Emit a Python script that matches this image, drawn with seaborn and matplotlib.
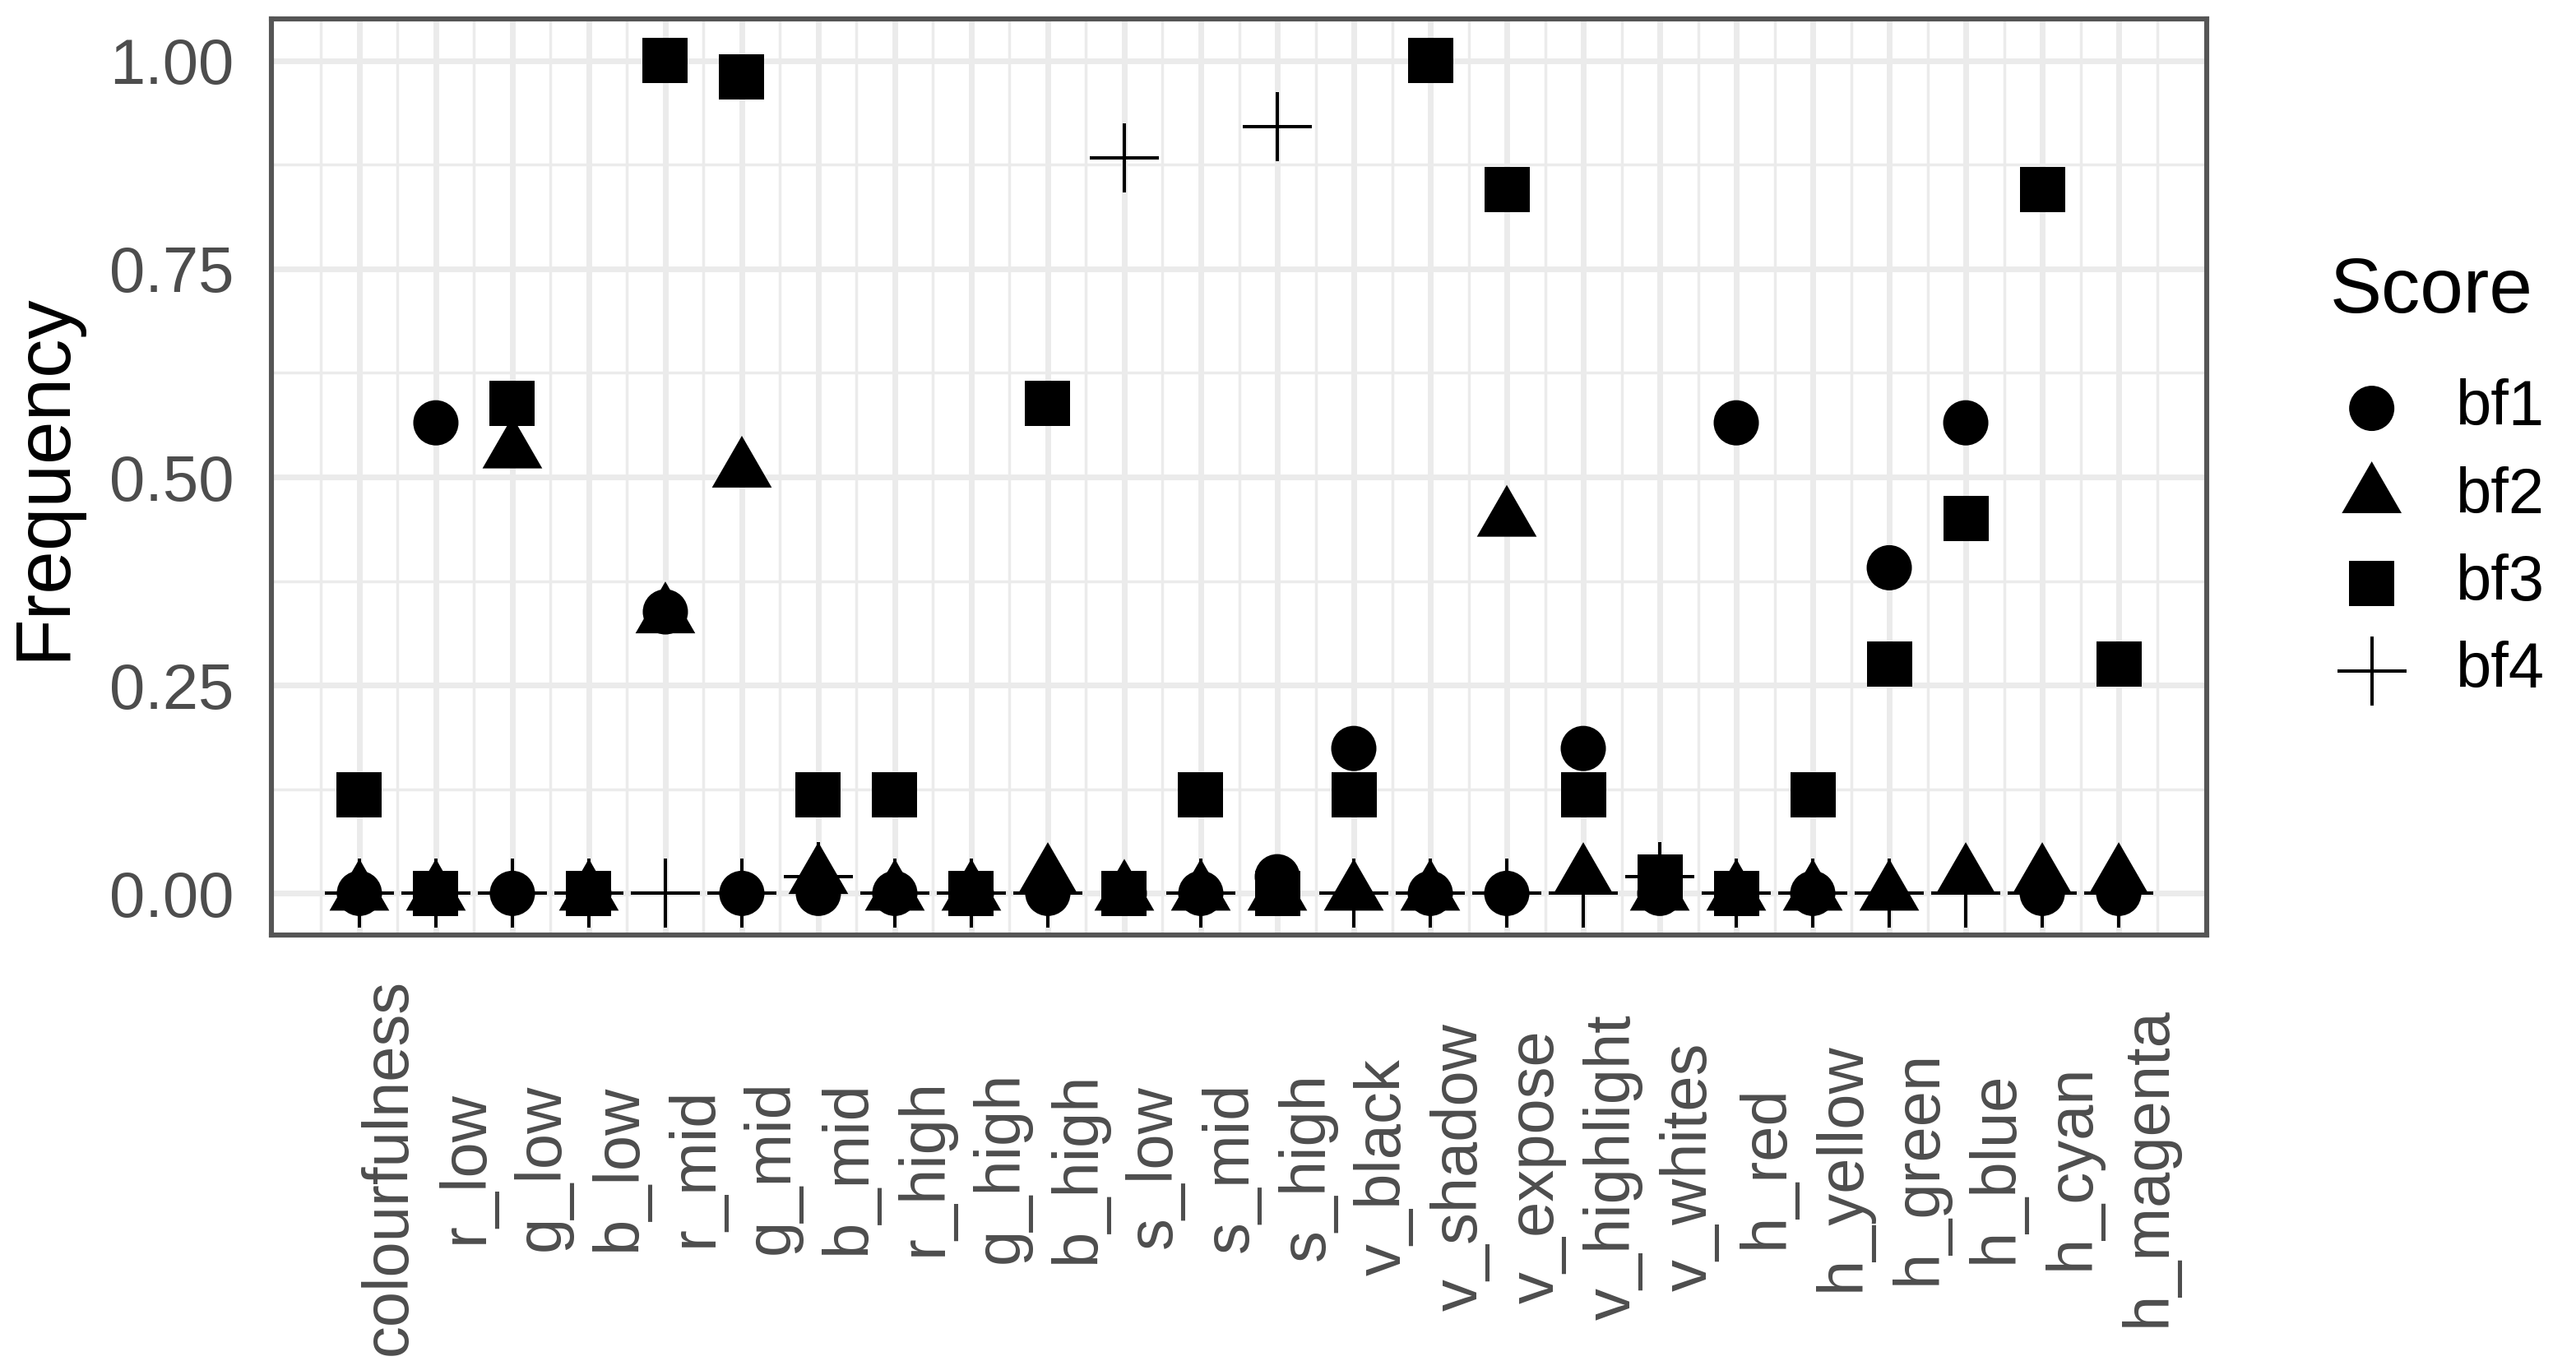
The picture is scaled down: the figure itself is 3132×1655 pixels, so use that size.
import matplotlib
matplotlib.use("Agg")

import matplotlib.pyplot as plt
import seaborn as sns
import pandas as pd
from matplotlib.path import Path


CATEGORIAS = [
    "colourfulness", "r_low", "g_low", "b_low", "r_mid", "g_mid",
    "b_mid", "r_high", "g_high", "b_high", "s_low", "s_mid", "s_high",
    "v_black", "v_shadow", "v_expose", "v_highlight", "v_whites",
    "h_red", "h_yellow", "h_green", "h_blue", "h_cyan", "h_magenta",
]

BF1 = [0.0, 0.565, 0.0, 0.0, 0.338, 0.0, 0.0, 0.0, 0.0, 0.0, 0.0, 0.0,
       0.02, 0.174, 0.0, 0.0, 0.174, 0.0, 0.565, 0.0, 0.391, 0.565, 0.0, 0.0]
BF2 = [0.0, 0.0, 0.531, 0.0, 0.333, 0.508, 0.02, 0.0, 0.0, 0.02, 0.0, 0.0,
       0.0, 0.0, 0.0, 0.449, 0.02, 0.0, 0.0, 0.0, 0.0, 0.02, 0.02, 0.02]
BF3 = [0.118, 0.0, 0.588, 0.0, 1.0, 0.98, 0.118, 0.118, 0.0, 0.588, 0.0, 0.118,
       0.0, 0.118, 1.0, 0.845, 0.118, 0.02, 0.0, 0.118, 0.275, 0.45, 0.845, 0.275]
BF4 = [0.0, 0.0, 0.0, 0.0, 0.0, 0.0, 0.02, 0.0, 0.0, 0.0, 0.883, 0.0,
       0.921, 0.0, 0.0, 0.0, 0.0, 0.02, 0.0, 0.0, 0.0, 0.0, 0.0, 0.0]

SCORES = ["bf1", "bf2", "bf3", "bf4"]
Y_TICKS = [0.0, 0.25, 0.5, 0.75, 1.0]

W, H, DPI = 3132, 1655, 200

# triangulo no estilo do R (centro no baricentro)
TRIANGULO = Path([(0, 1), (-0.866, -0.5), (0.866, -0.5), (0, 1)],
                 [Path.MOVETO, Path.LINETO, Path.LINETO, Path.CLOSEPOLY])

ESTILO = {
    "bf1": dict(marker="o", s=392, edgecolor="none"),
    "bf2": dict(marker=TRIANGULO, s=914, edgecolor="none"),
    "bf3": dict(marker="s", s=392, edgecolor="none"),
    "bf4": dict(marker="+", s=914, linewidth=1.45),
}


df = pd.DataFrame({
    "variavel": CATEGORIAS * 4,
    "pos": list(range(len(CATEGORIAS))) * 4,
    "Score": [s for s in SCORES for _ in CATEGORIAS],
    "Frequency": BF1 + BF2 + BF3 + BF4,
})

sns.set_style("white")
plt.rcParams["font.family"] = ["Liberation Sans", "DejaVu Sans"]

fig = plt.figure(figsize=(W / DPI, H / DPI), dpi=DPI)
ax = fig.add_axes([330 / W, 1 - 1137 / H, (2683 - 330) / W, (1137 - 23) / H])

for score in SCORES:
    sub = df[df["Score"] == score]
    sns.scatterplot(
        data=sub,
        x="pos",
        y="Frequency",
        color="black",
        label=score,
        ax=ax,
        zorder=3,
        **ESTILO[score]
    )

n = len(CATEGORIAS)
ax.set_xlim(-0.05 * (n - 1), (n - 1) * 1.05)
ax.set_ylim(-0.05, 1.05)

ax.set_xticks(range(n))
ax.set_xticks([i + 0.5 for i in range(-1, n)], minor=True)
ax.set_yticks(Y_TICKS)
ax.set_yticks([0.125, 0.375, 0.625, 0.875], minor=True)
ax.set_yticklabels([f"{v:.2f}" for v in Y_TICKS])
ax.set_xticklabels(CATEGORIAS, rotation=90, ha="left", va="center")

ax.grid(which="major", color="#EBEBEB", linewidth=2.5, zorder=0)
ax.grid(which="minor", color="#EBEBEB", linewidth=1.25, zorder=0)
ax.set_axisbelow(True)

ax.tick_params(axis="both", which="major", direction="out", length=9.5,
               width=2.0, color="#333333", labelsize=28, labelcolor="#4D4D4D")
ax.tick_params(axis="y", which="major", pad=7)
ax.tick_params(axis="x", which="major", pad=92)
ax.tick_params(which="minor", length=0)

for sp in ax.spines.values():
    sp.set_color("#555555")
    sp.set_linewidth(2.2)
    sp.set_zorder(4)

ax.set_xlabel("")
ax.set_ylabel("Frequency", fontsize=34, color="black")
ax.yaxis.label.set_va("baseline")
ax.yaxis.set_label_coords((78 - 330) / (2683 - 330), 0.5)

# legenda
handles, labels = ax.get_legend_handles_labels()
leg = ax.legend(
    handles, labels,
    loc="upper left",
    bbox_to_anchor=(2837 / W, 1 - 460 / H),
    bbox_transform=fig.transFigure,
    frameon=False,
    fontsize=28,
    handlelength=1.2,
    handletextpad=0.72,
    labelspacing=0.43,
    borderpad=0,
    borderaxespad=0,
    markerscale=1,
)
for t in leg.get_texts():
    t.set_color("black")

fig.text(2833 / W, 1 - 380 / H, "Score", fontsize=34, ha="left",
         va="baseline", color="black")

fig.savefig("out.png", dpi=DPI, facecolor="white")
